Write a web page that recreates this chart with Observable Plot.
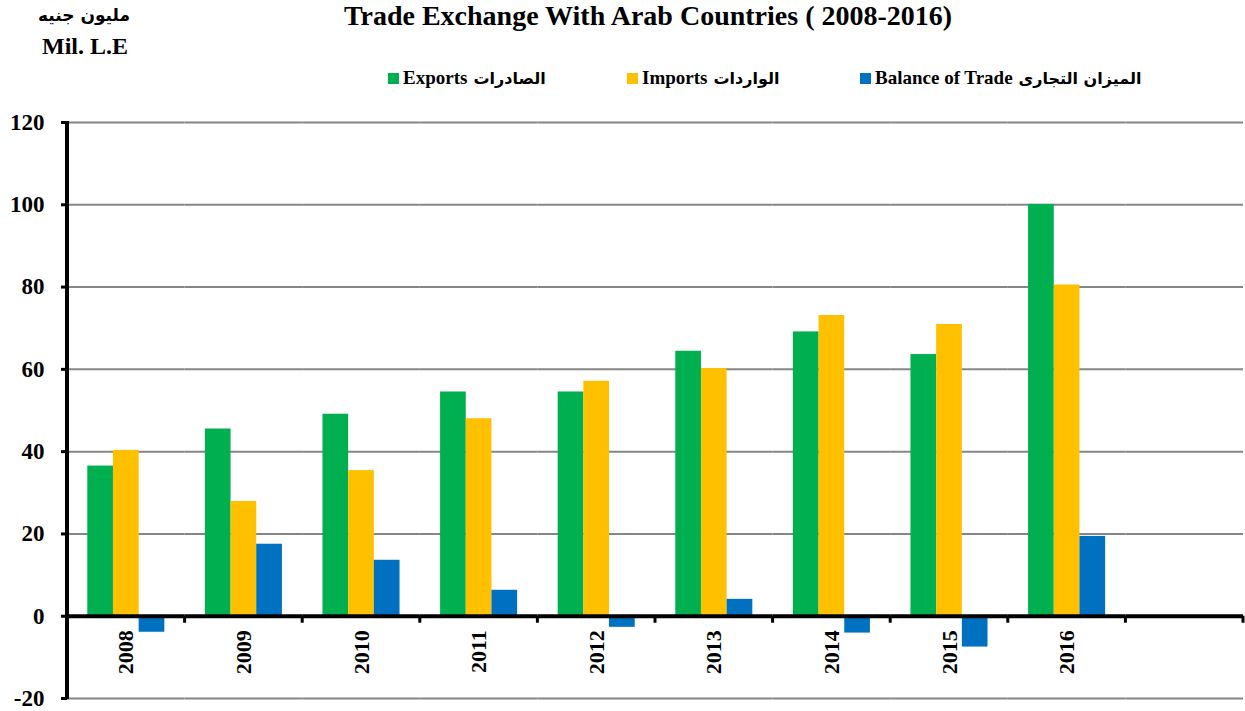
<!DOCTYPE html>
<html>
<head>
<meta charset="utf-8">
<script src="https://cdn.jsdelivr.net/npm/d3@7"></script>
<script src="https://cdn.jsdelivr.net/npm/@observablehq/plot@0.6"></script>
<style>
  body { margin: 0; background: #fff; font-family: "Liberation Serif", "Times New Roman", "DejaVu Sans", serif; }
  #page { position: relative; width: 1245px; height: 711px; overflow: hidden; }
  #head { position: relative; height: 100px; }
  .unit { position: absolute; right: 1115px; font-weight: bold; color: #000; white-space: nowrap; }
  #unit-ar { top: 5px; font-size: 17px; font-family: "DejaVu Sans", sans-serif; }
  #unit-en { top: 33px; font-size: 24px; right: 1117px; }
  #title { position: absolute; top: 0px; left: 0; width: 1296px; text-align: center; font-weight: bold; font-size: 28px; line-height: 32px; white-space: nowrap; }
  #legend { position: absolute; top: 67px; left: 0; font-weight: bold; font-size: 19px; white-space: nowrap; }
  .item { position: absolute; top: 0; display: flex; align-items: center; }
  .swatch { width: 11px; height: 11px; margin-right: 4px; }
  .ar { font-family: "DejaVu Sans", sans-serif; font-size: 16px; margin-left: 6px; }
  svg { display: block; }
</style>
</head>
<body>
<div id="page">
  <div id="head">
    <div class="unit" id="unit-ar">مليون جنيه</div>
    <div class="unit" id="unit-en">Mil. L.E</div>
    <div id="title">Trade Exchange With Arab Countries ( 2008-2016)</div>
    <div id="legend"></div>
  </div>
  <div id="chart"></div>
</div>
<script>
// Years on the category axis; the axis keeps one trailing empty slot
const years = ["2008", "2009", "2010", "2011", "2012", "2013", "2014", "2015", "2016"];
const slots = [...years, ""];

// Series (million L.E)
const seriesNames = ["Exports", "Imports", "Balance of Trade"];
const seriesArabic = ["الصادرات", "الواردات", "الميزان التجارى"];
const seriesColors = ["#00B050", "#FFC000", "#0070C0"];

const exportsValues = [36.5, 45.5, 49.1, 54.5, 54.5, 64.4, 69.1, 63.6, 100.1];
const importsValues = [40.3, 27.9, 35.4, 48.0, 57.1, 60.2, 73.1, 70.9, 80.5];
const balanceValues = [-3.9, 17.5, 13.6, 6.3, -2.7, 4.1, -4.1, -7.5, 19.4];

const yTicks = [-20, 0, 20, 40, 60, 80, 100, 120];

const seriesValues = [exportsValues, importsValues, balanceValues];
const rows = years.flatMap((year, i) =>
  seriesNames.map((series, k) => ({year, series, value: seriesValues[k][i]}))
);
// Every slot (including the trailing empty one) carries the grid and the zero line
const gridRows = slots.flatMap(slot => yTicks.map(tick => ({slot, tick})));

// Legend entries, laid out left to right
const legend = document.getElementById("legend");
const legendLeft = [388, 627, 860];
seriesNames.forEach((name, k) => {
  const item = document.createElement("div");
  item.className = "item";
  item.style.left = legendLeft[k] + "px";
  item.innerHTML = `<span class="swatch" style="background:${seriesColors[k]}"></span><span>${name}</span><span class="ar">${seriesArabic[k]}</span>`;
  legend.appendChild(item);
});

const chart = Plot.plot({
  width: 1245,
  height: 611,
  marginTop: 22,
  marginBottom: 13,
  marginLeft: 67,
  marginRight: 2,
  style: {fontFamily: "'Liberation Serif', 'Times New Roman', serif", color: "#000", background: "#fff"},
  fx: {domain: slots, paddingInner: 0, paddingOuter: 0, round: false, axis: null, label: null},
  x: {domain: seriesNames, paddingInner: 0, paddingOuter: 0.79, round: false, axis: null},
  y: {domain: [-20, 120], axis: null},
  color: {domain: seriesNames, range: seriesColors},
  marks: [
    Plot.ruleY(gridRows, {filter: d => d.tick !== 0, fx: "slot", y: "tick", stroke: "#868686", strokeWidth: 2}),
    Plot.barY(rows, {fx: "year", x: "series", y: "value", fill: "series"}),
    Plot.ruleY(gridRows, {filter: d => d.tick === 0, fx: "slot", y: "tick", stroke: "#000", strokeWidth: 4}),
    Plot.axisY(yTicks, {
      anchor: "left", tickSize: 6, strokeWidth: 3, tickPadding: 17,
      tickFormat: d => String(d),
      fontSize: 23, fontWeight: "bold", fill: "#000", label: null
    }),
    Plot.text(rows, {
      filter: d => d.series === "Exports",
      fx: "year", text: "year", y: () => 0, rotate: -90, textAnchor: "end", lineAnchor: "middle",
      dy: 14, fontSize: 22, fontWeight: "bold", fill: "#000"
    })
  ]
});

// Left axis line and the category boundary ticks on the zero line
const fx = chart.scale("fx");
const ys = chart.scale("y");
const layer = d3.select(chart).append("g").attr("stroke", "#000");
layer.append("line")
  .attr("x1", fx.apply(slots[0])).attr("x2", fx.apply(slots[0]))
  .attr("y1", ys.apply(120) - 1).attr("y2", ys.apply(-20) + 1)
  .attr("stroke-width", 4);
const bounds = slots.slice(1).map(s => fx.apply(s)).concat(fx.apply(slots[slots.length - 1]) + fx.bandwidth);
layer.selectAll("line.b").data(bounds).join("line")
  .attr("class", "b")
  .attr("x1", d => d).attr("x2", d => d)
  .attr("y1", ys.apply(0)).attr("y2", ys.apply(0) + 7)
  .attr("stroke-width", 3);

document.getElementById("chart").appendChild(chart);
</script>
</body>
</html>
